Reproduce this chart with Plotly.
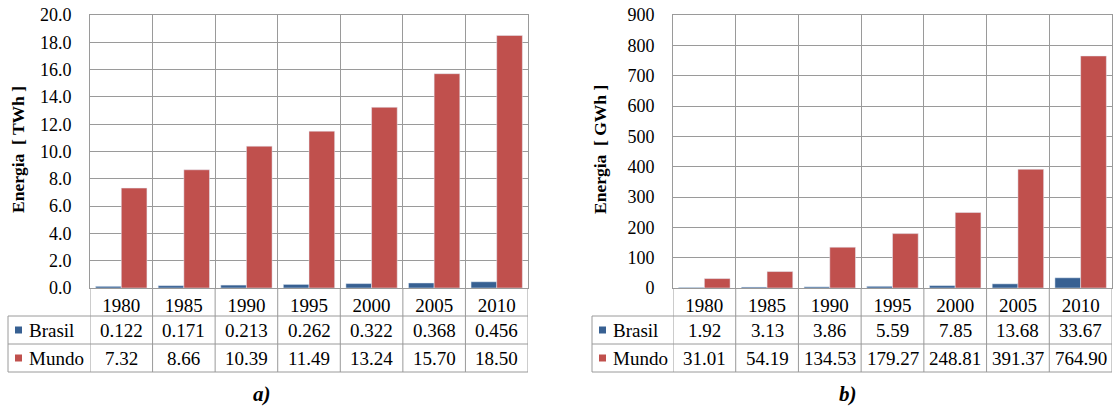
import plotly.graph_objects as go

# ---- data -------------------------------------------------------------
years = ["1980", "1985", "1990", "1995", "2000", "2005", "2010"]
series_names = ["Brasil", "Mundo"]

brasil_twh = [0.122, 0.171, 0.213, 0.262, 0.322, 0.368, 0.456]
mundo_twh = [7.32, 8.66, 10.39, 11.49, 13.24, 15.70, 18.50]

brasil_gwh = [1.92, 3.13, 3.86, 5.59, 7.85, 13.68, 33.67]
mundo_gwh = [31.01, 54.19, 134.53, 179.27, 248.81, 391.37, 764.90]

# ---- style / layout constants ----------------------------------------
W, H = 1114, 408
BLUE = "#376092"
RED = "#C0504D"
GRID = "#9a9a9a"
FONT = "Liberation Serif"
TICK_SIZE = 18
CELL_SIZE = 19

PLOT_TOP = 15      # px, top of plotting area
AXIS_Y = 288       # px, value-axis baseline (top of data table)
ROW_H = 28         # px, height of each table row


def px(x):
    return x / W


def py(y):
    return 1 - y / H


panels = [
    dict(xa="x", ya="y", left=90, right=528, lab_left=8, title_x=18,
         title="Energia  [ TWh ]", ymax=20, dtick=2, tickfmt=".1f",
         values=[brasil_twh, mundo_twh], fmts=["{:.3f}", "{:.2f}"],
         tag="a)", tag_x=262),
    dict(xa="x2", ya="y2", left=673, right=1112, lab_left=592, title_x=600,
         title="Energia  [ GWh ]", ymax=900, dtick=100, tickfmt="d",
         values=[brasil_gwh, mundo_gwh], fmts=["{:.2f}", "{:.2f}"],
         tag="b)", tag_x=848),
]
colors = [BLUE, RED]

fig = go.Figure()
shapes = []
annotations = []
layout_axes = {}

for p in panels:
    # bars
    for name, vals, col in zip(series_names, p["values"], colors):
        fig.add_trace(go.Bar(x=years, y=vals, name=name, marker_color=col,
                             xaxis=p["xa"], yaxis=p["ya"], showlegend=False))

    xkey = "xaxis" if p["xa"] == "x" else "xaxis2"
    ykey = "yaxis" if p["ya"] == "y" else "yaxis2"
    layout_axes[xkey] = dict(
        domain=[px(p["left"]), px(p["right"])], anchor=p["ya"],
        type="category", range=[-0.5, len(years) - 0.5],
        showgrid=True, gridcolor=GRID, gridwidth=1, tickson="boundaries",
        ticks="", showline=True, linecolor=GRID, mirror=True,
        tickfont=dict(family=FONT, size=CELL_SIZE, color="black"),
        ticklabelstandoff=0, automargin=False,
    )
    layout_axes[ykey] = dict(
        domain=[py(AXIS_Y), py(PLOT_TOP)], anchor=p["xa"],
        range=[0, p["ymax"]], dtick=p["dtick"], tickformat=p["tickfmt"],
        showgrid=True, gridcolor=GRID, gridwidth=1, zeroline=False,
        showline=True, linecolor=GRID, mirror=True, ticks="",
        ticklabelstandoff=14, automargin=False,
        tickfont=dict(family=FONT, size=TICK_SIZE, color="black"),
    )

    # y-axis title
    annotations.append(dict(
        x=px(p["title_x"]), y=py(150), xref="paper", yref="paper",
        text="<b>%s</b>" % p["title"], textangle=-90, showarrow=False,
        font=dict(family=FONT, size=17.5, color="black"),
        xanchor="center", yanchor="middle"))

    # panel tag
    annotations.append(dict(
        x=px(p["tag_x"]), y=py(394), xref="paper", yref="paper",
        text="<b><i>%s</i></b>" % p["tag"], showarrow=False,
        font=dict(family=FONT, size=21, color="black"),
        xanchor="center", yanchor="middle"))

    # data table grid
    line = dict(color=GRID, width=1)
    bottom = AXIS_Y + 3 * ROW_H
    for r in range(1, 4):
        yr = AXIS_Y + r * ROW_H
        shapes.append(dict(type="line", xref="paper", yref="paper",
                           x0=px(p["lab_left"]), x1=px(p["right"]),
                           y0=py(yr), y1=py(yr), line=line))
    shapes.append(dict(type="line", xref="paper", yref="paper",
                       x0=px(p["lab_left"]), x1=px(p["lab_left"]),
                       y0=py(AXIS_Y + ROW_H), y1=py(bottom), line=line))
    for i in range(len(years) + 1):
        shapes.append(dict(type="line", xref=p["xa"], yref="paper",
                           x0=i - 0.5, x1=i - 0.5,
                           y0=py(AXIS_Y), y1=py(bottom), line=line))

    # table rows: legend key, series name and values
    for r, (name, vals, col, f) in enumerate(zip(series_names, p["values"], colors, p["fmts"])):
        yc = AXIS_Y + (r + 1.5) * ROW_H
        shapes.append(dict(type="rect", xref="paper", yref="paper",
                           x0=px(p["lab_left"] + 7), x1=px(p["lab_left"] + 14),
                           y0=py(yc + 3.5), y1=py(yc - 3.5),
                           fillcolor=col, line=dict(width=0)))
        annotations.append(dict(
            x=px(p["lab_left"] + 19), y=py(yc), xref="paper", yref="paper",
            text=name, showarrow=False, xanchor="left", yanchor="middle",
            font=dict(family=FONT, size=CELL_SIZE, color="black")))
        for i, v in enumerate(vals):
            annotations.append(dict(
                x=i, y=py(yc), xref=p["xa"], yref="paper",
                text=f.format(v), showarrow=False,
                xanchor="center", yanchor="middle",
                font=dict(family=FONT, size=CELL_SIZE, color="black")))

fig.update_layout(
    width=W, height=H, margin=dict(l=0, r=0, t=0, b=0, autoexpand=False),
    paper_bgcolor="white", plot_bgcolor="white",
    barmode="group", bargap=0.18, bargroupgap=0,
    shapes=shapes, annotations=annotations,
    font=dict(family=FONT, color="black"),
    **layout_axes,
)

fig.write_html("out.html")
